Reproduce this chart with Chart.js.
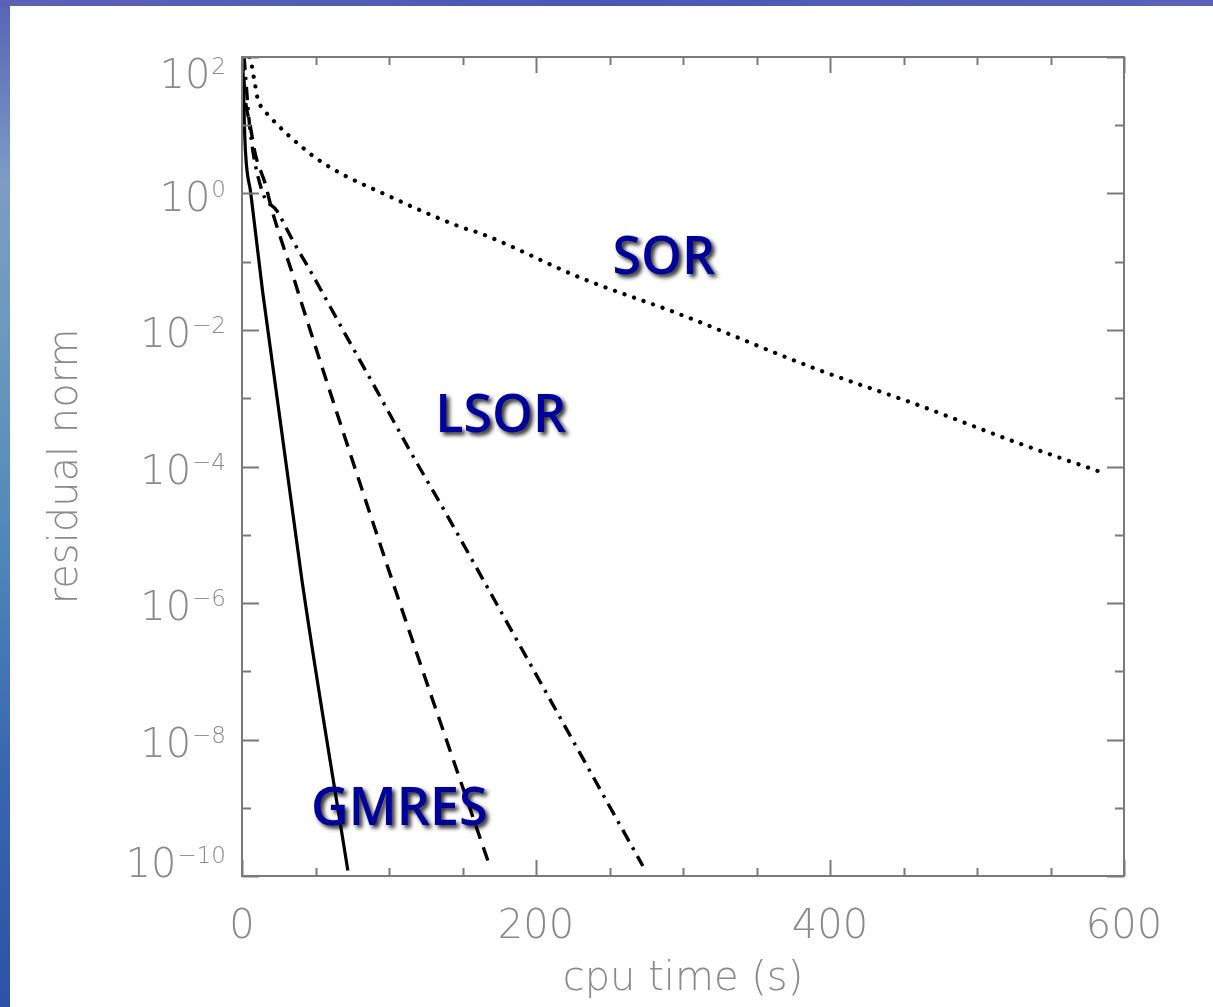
<!DOCTYPE html>
<html lang="en">
<head>
  <meta charset="UTF-8">
  <title>Residual norm vs cpu time</title>
  <script src="https://cdn.jsdelivr.net/npm/chart.js"></script>
  <style>
    html, body { margin: 0; padding: 0; }
    body {
      width: 1213px; height: 1007px; overflow: hidden; position: relative;
      background: linear-gradient(to bottom, #5863b6 0%, #7c9cc4 18%, #6a98bc 35%, #4f86b8 55%, #3a68b0 75%, #2c52a6 100%);
    }
    #topstrip { position: absolute; left: 0; top: 0; width: 1213px; height: 6px;
      background: linear-gradient(to right, #5a62b4, #4a58b8 50%, #5a62b8); }
    #wrap { position: absolute; left: 10px; top: 6px; width: 1203px; height: 1001px; background: #fff; }
  </style>
</head>
<body>
  <div id="topstrip"></div>
  <div id="wrap"><canvas id="residChart"></canvas></div>

  <script>
    // values (cpu time in s, residual norm)
    const gmresTime  = [0.5, 2, 6, 14, 41, 72];
    const gmresResid = [100, 6, 1, 0.037, 2.0e-6, 1.2e-10];

    const dashTime  = [0.5, 2, 5.5, 8.9, 15.7, 20.5, 27.3, 34.1, 39.5, 102, 169];
    const dashResid = [100, 27.5, 10.2, 3.9, 1.41, 0.56, 0.19, 0.069, 0.029, 2.2e-6, 1.3e-10];

    const lsorTime  = [1.4, 5.5, 13.6, 23.9, 34.8, 46.4, 68.9, 92, 114.5, 137, 164, 272.7];
    const lsorResid = [100, 8.5, 1.1, 0.55, 0.20, 0.074, 0.0098, 1.26e-3, 1.66e-4, 2.4e-5, 2.2e-6, 1.4e-10];

    const sorTime  = [5, 5.5, 8.2, 10.9, 14.3, 19.1, 29.3, 40.3, 51.1, 70.2, 96.1, 122.7, 149.3, 162.3, 230.5, 296.6, 389.3, 458.9, 525.7, 587];
    const sorResid = [100, 98, 48, 23.4, 17.4, 13.2, 7.9, 4.9, 3.2, 1.82, 1.0, 0.55, 0.32, 0.26, 0.058, 0.0174, 2.75e-3, 8.1e-4, 2.3e-4, 7.9e-5];

    // axis ticks
    const xTicks = [0, 200, 400, 600];
    const xMinorStep = 50;
    const yTickExps = [2, 0, -2, -4, -6, -8, -10];
    const yMinorExps = [1, -1, -3, -5, -7, -9];

    // in-plot labels: text, time, residual
    const labelText  = ['SOR', 'LSOR', 'GMRES'];
    const labelTime  = [287, 176, 107];
    const labelResid = [0.11, 5.2e-4, 9.3e-10];

    const toPoints = (xs, ys) => xs.map((x, i) => ({ x: x, y: ys[i] }));

    const tickColor = '#7a7a7a';
    const textColor = '#8a8a8a';
    const numFont = "200 40px 'DejaVu Sans', sans-serif";
    const supFont = "200 23px 'DejaVu Sans', sans-serif";

    // frame, inward ticks and tick labels
    const framePlugin = {
      id: 'frame',
      afterDraw(chart) {
        const { ctx, chartArea: a } = chart;
        const xs = chart.scales.x, ys = chart.scales.y;
        ctx.save();
        ctx.strokeStyle = tickColor;
        ctx.lineWidth = 2;
        ctx.strokeRect(a.left, a.top, a.right - a.left, a.bottom - a.top);

        ctx.beginPath();
        for (let v = 0; v <= xs.max; v += xMinorStep) {
          const px = Math.round(xs.getPixelForValue(v)) + 0.5;
          const len = xTicks.includes(v) ? 16 : 8;
          ctx.moveTo(px, a.bottom); ctx.lineTo(px, a.bottom - len);
          ctx.moveTo(px, a.top); ctx.lineTo(px, a.top + len);
        }
        yTickExps.concat(yMinorExps).forEach(e => {
          const py = Math.round(ys.getPixelForValue(Math.pow(10, e))) + 0.5;
          const len = yTickExps.includes(e) ? 17 : 9;
          ctx.moveTo(a.left, py); ctx.lineTo(a.left + len, py);
          ctx.moveTo(a.right, py); ctx.lineTo(a.right - len, py);
        });
        ctx.stroke();

        // y labels: 10 with superscript exponent
        ctx.fillStyle = textColor;
        ctx.textBaseline = 'alphabetic';
        yTickExps.forEach(e => {
          const py = ys.getPixelForValue(Math.pow(10, e));
          const mid = Math.min(Math.max(py + 3, a.top + 17), a.bottom - 13);
          const base = mid + 14;
          const sup = (e < 0 ? '\u2212' : '') + Math.abs(e);
          ctx.font = supFont;
          const sw = ctx.measureText(sup).width;
          const right = a.left - 16;
          ctx.textAlign = 'right';
          ctx.fillText(sup, right, base - 14);
          ctx.font = numFont;
          ctx.fillText('10', right - sw - 1, base);
        });

        // x labels
        ctx.font = numFont;
        ctx.textAlign = 'center';
        xTicks.forEach(v => {
          ctx.fillText(String(v), xs.getPixelForValue(v), a.bottom + 62);
        });

        // axis titles
        ctx.fillText('cpu time (s)', (a.left + a.right) / 2, a.bottom + 114);
        ctx.save();
        ctx.translate(67, (a.top + a.bottom) / 2);
        ctx.rotate(-Math.PI / 2);
        ctx.fillText('residual norm', 0, 0);
        ctx.restore();

        // method labels
        ctx.font = "600 52px 'Open Sans', sans-serif";
        ctx.textBaseline = 'middle';
        ctx.fillStyle = '#00009a';
        ctx.shadowColor = 'rgba(0,0,0,0.85)';
        ctx.shadowOffsetX = 3;
        ctx.shadowOffsetY = 3;
        ctx.shadowBlur = 4;
        labelText.forEach((t, i) => {
          ctx.fillText(t, xs.getPixelForValue(labelTime[i]), ys.getPixelForValue(labelResid[i]));
        });
        ctx.restore();
      }
    };

    const lineBase = { borderColor: '#000', pointRadius: 0, cubicInterpolationMode: 'monotone', fill: false };

    new Chart(document.getElementById('residChart'), {
      type: 'line',
      data: {
        datasets: [
          Object.assign({ label: 'GMRES', data: toPoints(gmresTime, gmresResid), borderWidth: 3.2 }, lineBase),
          Object.assign({ label: 'dashed', data: toPoints(dashTime, dashResid), borderWidth: 3.4, borderDash: [14, 9] }, lineBase),
          Object.assign({ label: 'LSOR', data: toPoints(lsorTime, lsorResid), borderWidth: 3.4, borderDash: [13, 7, 3, 7] }, lineBase),
          Object.assign({ label: 'SOR', data: toPoints(sorTime, sorResid), borderWidth: 4.2, borderDash: [0.1, 10], borderCapStyle: 'round' }, lineBase)
        ]
      },
      options: {
        responsive: true,
        maintainAspectRatio: false,
        animation: false,
        layout: { padding: { left: 232, top: 51, right: 89, bottom: 131 } },
        plugins: { legend: { display: false }, tooltip: { enabled: false } },
        scales: {
          x: { type: 'linear', min: 0, max: 600, display: false },
          y: { type: 'logarithmic', min: 1e-10, max: 1e2, display: false }
        }
      },
      plugins: [framePlugin]
    });
  </script>
</body>
</html>
